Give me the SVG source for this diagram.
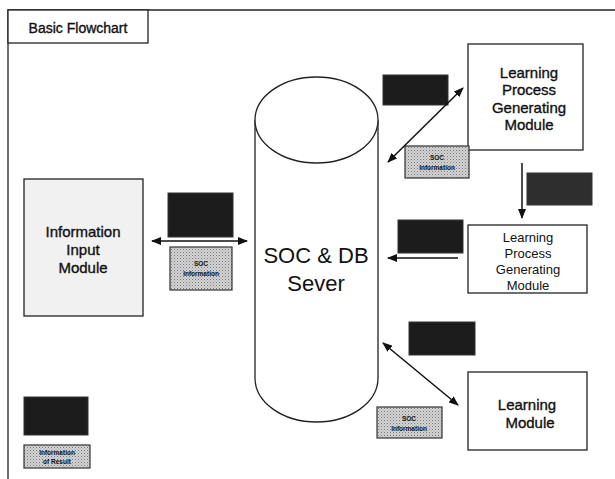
<svg xmlns="http://www.w3.org/2000/svg" width="615" height="479" viewBox="0 0 615 479">
<style>
.frame{fill:none;stroke:#222;stroke-width:1.3}
.box{fill:#fff;stroke:#222;stroke-width:1.3}
.dark{fill:#1c1c1c;stroke:#333;stroke-width:1}
.light{fill:url(#dots);stroke:#333;stroke-width:1.2}
.t{font-family:"Liberation Sans",Arial,sans-serif;fill:#111;text-anchor:middle}
.heavy{stroke:#111;stroke-width:0.35}
.tiny{font-family:"Liberation Sans",Arial,sans-serif;font-size:6.5px;font-weight:bold;fill:#111;text-anchor:middle}
.conn{fill:none;stroke:#111;stroke-width:1.5}
</style>
<defs>
<marker id="ah" markerWidth="10" markerHeight="8" refX="9" refY="4" orient="auto-start-reverse" markerUnits="userSpaceOnUse">
<path d="M0,0 L10,4 L0,8 Z" fill="#111"/>
</marker>
<pattern id="dots" width="3" height="3" patternUnits="userSpaceOnUse">
<rect width="3" height="3" fill="#d4d4d4"/>
<rect x="0" y="0" width="1" height="1" fill="#777"/>
<rect x="1.5" y="1.5" width="1" height="1" fill="#999"/>
</pattern>
</defs>
<rect width="615" height="479" fill="#fff"/>
<g id="frame">
<path class="frame" d="M8,479 L8,10 L615,10"/>
<rect class="box" x="8" y="10" width="140" height="33"/>
<text class="t heavy" x="78" y="33" font-size="14">Basic Flowchart</text>
</g>
<g id="server">
<path class="box" d="M255,120 L255,378 A61.5,44 0 0 0 378,378 L378,120"/>
<ellipse class="box" cx="316.5" cy="120" rx="61.5" ry="43"/>
<text class="t" x="316" y="263" font-size="22">SOC &amp; DB</text>
<text class="t" x="316" y="291" font-size="22">Sever</text>
</g>
<g id="input-module">
<rect x="24" y="179" width="119" height="137" fill="#f1f1f1" stroke="#222" stroke-width="1.3"/>
<text class="t heavy" x="83" y="237" font-size="15">Information</text>
<text class="t heavy" x="83" y="255" font-size="15">Input</text>
<text class="t heavy" x="83" y="273" font-size="15">Module</text>
</g>
<g id="lpg-module-1">
<rect class="box" x="468" y="44" width="115" height="106"/>
<text class="t heavy" x="529" y="78" font-size="15">Learning</text>
<text class="t heavy" x="529" y="95" font-size="15">Process</text>
<text class="t heavy" x="529" y="113" font-size="15">Generating</text>
<text class="t heavy" x="529" y="130" font-size="15">Module</text>
</g>
<g id="lpg-module-2">
<rect class="box" x="468" y="225" width="119" height="68"/>
<text class="t" x="528" y="242" font-size="13">Learning</text>
<text class="t" x="528" y="258" font-size="13">Process</text>
<text class="t" x="528" y="274" font-size="13">Generating</text>
<text class="t" x="528" y="290" font-size="13">Module</text>
</g>
<g id="learning-module">
<rect class="box" x="468" y="372" width="119" height="78"/>
<text class="t heavy" x="527" y="410" font-size="15">Learning</text>
<text class="t heavy" x="530" y="428" font-size="15">Module</text>
</g>
<g id="labels">
<rect class="dark" x="168" y="193" width="65" height="44"/>
<rect class="light" x="170" y="247" width="62" height="43"/>
<text class="tiny" x="201" y="266">SOC</text>
<text class="tiny" x="201" y="276">Information</text>
<rect class="dark" x="383" y="75" width="65" height="30"/>
<rect class="light" x="405" y="146" width="64" height="32"/>
<text class="tiny" x="437" y="160">SOC</text>
<text class="tiny" x="437" y="170">Information</text>
<rect class="dark" x="527" y="173" width="65" height="32" style="fill:#2e2e2e"/>
<rect class="dark" x="398" y="220" width="65" height="33"/>
<rect class="dark" x="409" y="322" width="66" height="33"/>
<rect class="light" x="377" y="407" width="65" height="31"/>
<text class="tiny" x="409" y="421">SOC</text>
<text class="tiny" x="409" y="431">Information</text>
<rect class="dark" x="24" y="397" width="64" height="38"/>
<rect class="light" x="24" y="445" width="66" height="23"/>
<text class="tiny" x="57" y="455">Information</text>
<text class="tiny" x="57" y="464">of Result</text>
</g>
<g id="connectors">
<line class="conn" x1="152" y1="241" x2="247" y2="241" marker-start="url(#ah)" marker-end="url(#ah)"/>
<line class="conn" x1="388" y1="162" x2="463" y2="88" marker-start="url(#ah)" marker-end="url(#ah)"/>
<line class="conn" x1="522" y1="163" x2="522" y2="218" marker-end="url(#ah)"/>
<line class="conn" x1="458" y1="258" x2="388" y2="258" marker-end="url(#ah)"/>
<line class="conn" x1="383" y1="343" x2="458" y2="405" marker-start="url(#ah)" marker-end="url(#ah)"/>
</g>
</svg>
